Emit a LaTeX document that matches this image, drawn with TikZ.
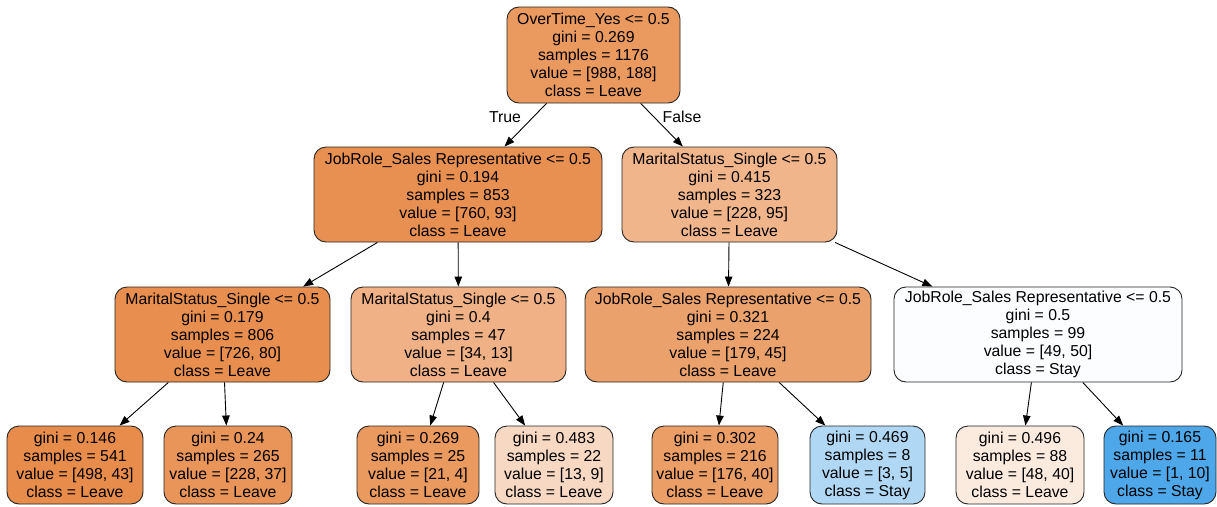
\documentclass[tikz,border=0pt]{standalone}
\usepackage{fontspec}
\setmainfont{Liberation Sans}
\usetikzlibrary{arrows.meta}
\definecolor{c0}{RGB}{234,153,95}
\definecolor{c1}{RGB}{232,144,81}
\definecolor{c2}{RGB}{240,181,139}
\definecolor{cA}{RGB}{232,143,79}
\definecolor{cB}{RGB}{239,177,133}
\definecolor{cC}{RGB}{235,161,107}
\definecolor{cD}{RGB}{251,253,254}
\definecolor{cL1}{RGB}{231,140,74}
\definecolor{cL2}{RGB}{233,149,89}
\definecolor{cL3}{RGB}{234,153,95}
\definecolor{cL4}{RGB}{247,216,194}
\definecolor{cL5}{RGB}{235,158,102}
\definecolor{cL6}{RGB}{176,216,245}
\definecolor{cL7}{RGB}{251,234,222}
\definecolor{cL8}{RGB}{77,167,232}
\tikzset{
  tn/.style={draw=black!85, line width=0.9pt, rounded corners=12pt, align=center,
    inner sep=0pt, minimum height=95pt,
    font=\fontsize{15.8pt}{18pt}\selectfont},
  leaf/.style={tn, minimum height=78pt},
  arr/.style={draw=black, line width=0.9pt, -{Triangle[length=10pt,width=7.5pt]}},
  lbl/.style={font=\fontsize{15.8pt}{18pt}\selectfont, inner sep=0pt}
}
\begin{document}
\begin{tikzpicture}[x=1pt,y=-1pt]
\useasboundingbox[fill=white] (0,0) rectangle (1217,506);
\node[tn, fill=c0, minimum width=173pt, minimum height=96pt] (root) at (593.5,55)
  {OverTime\_Yes <= 0.5\\gini = 0.269\\samples = 1176\\value = [988, 188]\\class = Leave};
\node[tn, fill=c1, minimum width=288pt] (n1) at (458,194.5)
  {JobRole\_Sales Representative <= 0.5\\gini = 0.194\\samples = 853\\value = [760, 93]\\class = Leave};
\node[tn, fill=c2, minimum width=215pt] (n2) at (729.5,194.5)
  {MaritalStatus\_Single <= 0.5\\gini = 0.415\\samples = 323\\value = [228, 95]\\class = Leave};
\node[tn, fill=cA, minimum width=215pt] (a) at (222.5,334.5)
  {MaritalStatus\_Single <= 0.5\\gini = 0.179\\samples = 806\\value = [726, 80]\\class = Leave};
\node[tn, fill=cB, minimum width=215pt] (b) at (458.5,334.5)
  {MaritalStatus\_Single <= 0.5\\gini = 0.4\\samples = 47\\value = [34, 13]\\class = Leave};
\node[tn, fill=cC, minimum width=286pt] (c) at (728,334.5)
  {JobRole\_Sales Representative <= 0.5\\gini = 0.321\\samples = 224\\value = [179, 45]\\class = Leave};
\node[tn, fill=cD, minimum width=288pt] (d) at (1038,334.5)
  {JobRole\_Sales Representative <= 0.5\\gini = 0.5\\samples = 99\\value = [49, 50]\\class = Stay};
\node[leaf, fill=cL1, minimum width=136pt] (l1) at (75,465)
  {gini = 0.146\\samples = 541\\value = [498, 43]\\class = Leave};
\node[leaf, fill=cL2, minimum width=128pt] (l2) at (228,465)
  {gini = 0.24\\samples = 265\\value = [228, 37]\\class = Leave};
\node[leaf, fill=cL3, minimum width=122pt] (l3) at (418,465)
  {gini = 0.269\\samples = 25\\value = [21, 4]\\class = Leave};
\node[leaf, fill=cL4, minimum width=118pt] (l4) at (554,465)
  {gini = 0.483\\samples = 22\\value = [13, 9]\\class = Leave};
\node[leaf, fill=cL5, minimum width=126pt] (l5) at (715,465)
  {gini = 0.302\\samples = 216\\value = [176, 40]\\class = Leave};
\node[leaf, fill=cL6, minimum width=115pt] (l6) at (867.5,465)
  {gini = 0.469\\samples = 8\\value = [3, 5]\\class = Stay};
\node[leaf, fill=cL7, minimum width=128pt] (l7) at (1020,465)
  {gini = 0.496\\samples = 88\\value = [48, 40]\\class = Leave};
\node[leaf, fill=cL8, minimum width=112pt] (l8) at (1160,465)
  {gini = 0.165\\samples = 11\\value = [1, 10]\\class = Stay};
\draw[arr] (root) -- (n1);
\draw[arr] (root) -- (n2);
\draw[arr] (n1) -- (a);
\draw[arr] (n1) -- (b);
\draw[arr] (n2) -- (c);
\draw[arr] (n2) -- (d);
\draw[arr] (a) -- (l1);
\draw[arr] (a) -- (l2);
\draw[arr] (b) -- (l3);
\draw[arr] (b) -- (l4);
\draw[arr] (c) -- (l5);
\draw[arr] (c) -- (l6);
\draw[arr] (d) -- (l7);
\draw[arr] (d) -- (l8);
\node[lbl] (tl) at (505,117) {True};
\node[lbl] (fl) at (682,117) {False};
\end{tikzpicture}
\end{document}
